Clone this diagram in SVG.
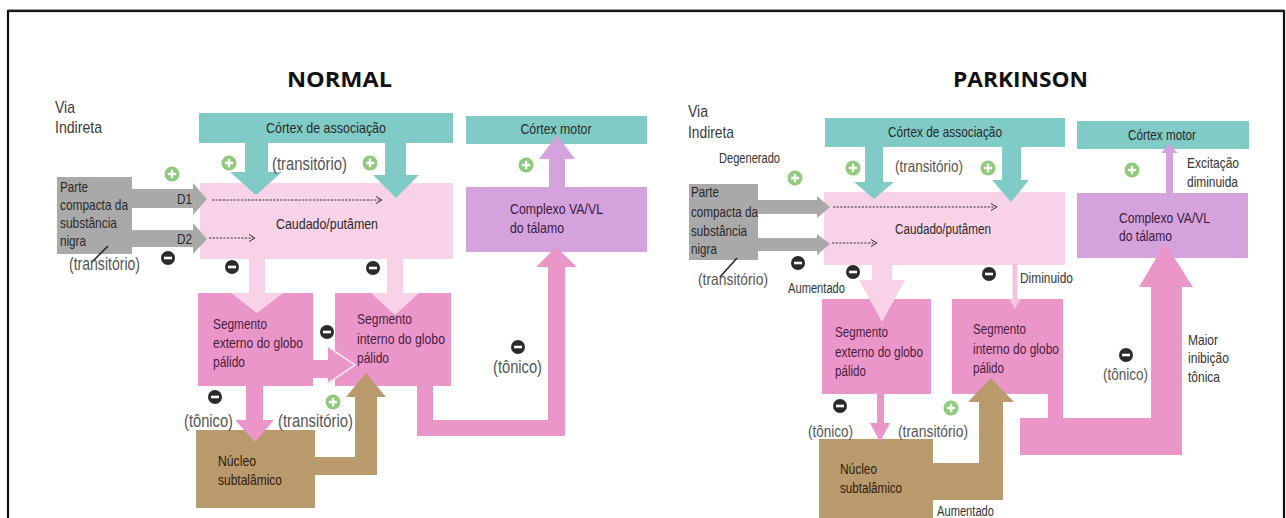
<svg xmlns="http://www.w3.org/2000/svg" width="1286" height="518" viewBox="0 0 1286 518">
<defs>
<style>
text{font-family:"Liberation Sans",Arial,sans-serif;}
.title{font-family:"Open Sans","Liberation Sans",sans-serif;font-weight:bold;font-size:21px;fill:#111;}
.via{font-size:17px;fill:#3a3a3a;}
.lbl{font-size:14.5px;fill:#2a2a2a;}
.box{font-size:14.5px;fill:#4a1d3e;}
.teal{fill:#80cbc5;}
.lpink{fill:#f8d3e8;}
.pink{fill:#ea96c9;}
.purple{fill:#d4a2dc;}
.tan{fill:#b99a6c;}
.gray{fill:#a9a9a9;}
.note{font-size:17.5px;fill:#555;}
.small{font-size:14px;fill:#333;}
.dash{stroke:#333;stroke-width:1;stroke-dasharray:2.2 1.4;fill:none;}
.chev{stroke:#333;stroke-width:1;fill:none;}
</style>
<g id="plus"><circle r="7.5" fill="#8dca7c"/><path d="M-4.2 0H4.2M0 -4.2V4.2" stroke="#fff" stroke-width="2.4"/></g>
<g id="minus"><circle r="7" fill="#2b2b2b"/><rect x="-4" y="-1.3" width="8" height="2.6" fill="#fff"/></g>
</defs>
<rect width="1286" height="518" fill="#fff"/>
<rect x="8" y="11" width="1276" height="520" fill="none" stroke="#111" stroke-width="2.2"/>
<line x1="8" y1="9.6" x2="1284" y2="9.6" stroke="#999" stroke-width="1"/>

<!-- ===================== NORMAL ===================== -->
<text class="title" x="287" y="87" textLength="105" lengthAdjust="spacingAndGlyphs">NORMAL</text>
<text class="via" x="55" y="113" textLength="20" lengthAdjust="spacingAndGlyphs">Via</text>
<text class="via" x="55" y="133" textLength="47" lengthAdjust="spacingAndGlyphs">Indireta</text>

<g id="n_cortex_assoc"><rect class="teal" x="199" y="113" width="254" height="30"/><text class="lbl" x="326" y="133" text-anchor="middle" textLength="120" lengthAdjust="spacingAndGlyphs">Córtex de associação</text></g>
<g id="n_caudado"><rect class="lpink" x="200" y="183" width="253" height="76"/><text class="lbl" x="327" y="229" text-anchor="middle" textLength="102" lengthAdjust="spacingAndGlyphs">Caudado/putâmen</text></g>
<g id="n_sn"><rect class="gray" x="57" y="177" width="75" height="77"/>
<text class="lbl" x="60" y="192" textLength="28" lengthAdjust="spacingAndGlyphs">Parte</text><text class="lbl" x="60" y="210" textLength="68" lengthAdjust="spacingAndGlyphs">compacta da</text><text class="lbl" x="60" y="228" textLength="57" lengthAdjust="spacingAndGlyphs">substância</text><text class="lbl" x="60" y="246" textLength="26" lengthAdjust="spacingAndGlyphs">nigra</text></g>
<g id="n_gpe"><rect class="pink" x="198" y="293" width="115" height="93"/><text class="box" x="213" y="329" textLength="54" lengthAdjust="spacingAndGlyphs">Segmento</text><text class="box" x="213" y="348" textLength="90" lengthAdjust="spacingAndGlyphs">externo do globo</text><text class="box" x="213" y="367" textLength="32" lengthAdjust="spacingAndGlyphs">pálido</text></g>
<g id="n_gpi"><rect class="pink" x="335" y="293" width="116" height="93"/><text class="box" x="357" y="324" textLength="55" lengthAdjust="spacingAndGlyphs">Segmento</text><text class="box" x="357" y="344" textLength="88" lengthAdjust="spacingAndGlyphs">interno do globo</text><text class="box" x="357" y="363" textLength="32" lengthAdjust="spacingAndGlyphs">pálido</text></g>
<g id="n_stn"><rect class="tan" x="196" y="430" width="119" height="78"/><text class="box" x="218" y="466" style="fill:#2e2010" textLength="38" lengthAdjust="spacingAndGlyphs">Núcleo</text><text class="box" x="218" y="485" style="fill:#2e2010" textLength="64" lengthAdjust="spacingAndGlyphs">subtalâmico</text></g>
<g id="n_valvl"><rect class="purple" x="466" y="187" width="181" height="65"/><text class="box" x="510" y="214" style="fill:#3b1a40" textLength="93" lengthAdjust="spacingAndGlyphs">Complexo VA/VL</text><text class="box" x="510" y="233" style="fill:#3b1a40" textLength="54" lengthAdjust="spacingAndGlyphs">do tálamo</text></g>
<g id="n_motor"><rect class="teal" x="466" y="116" width="181" height="28"/><text class="lbl" x="556" y="134" text-anchor="middle" textLength="71" lengthAdjust="spacingAndGlyphs">Córtex motor</text></g>

<g id="n_connectors">
<polygon class="teal" points="245,142 268,142 268,172 282,172 256,195 230,172 245,172"/>
<polygon class="teal" points="385,142 406,142 406,175 419,175 396,198 373,175 385,175"/>
<polygon class="gray" points="132,189 193,189 193,183 207,199 193,215 193,208 132,208"/>
<polygon class="gray" points="132,230 193,230 193,223 207,239 193,254 193,247 132,247"/>
<line class="dash" x1="212" y1="200" x2="380" y2="200"/><polyline class="chev" points="376,196.5 382,200 376,203.5"/>
<line class="dash" x1="209" y1="238" x2="253" y2="238"/><polyline class="chev" points="249,234.5 255,238 249,241.5"/>
<polygon class="lpink" points="249,258 265,258 265,293 283,293 257,313 231,293 249,293"/>
<polygon class="lpink" points="387,258 403,258 403,293 419,293 395,315 371,293 387,293"/>
<polygon class="pink" points="312,360 328,360 328,347 355,365 328,383 328,378 312,378"/>
<polyline points="327,346 355,365 327,384" fill="none" stroke="#fbe3f0" stroke-width="1.6"/>
<polygon class="pink" points="246,385 263,385 263,420 274,420 255,442 235,420 246,420"/>
<polygon class="tan" points="314,457 355,457 355,397 346,397 366,373 386,397 377,397 377,475 314,475"/>
<polygon class="pink" points="417,385 433,385 433,420 548,420 548,267 536,267 556,247 577,267 565,267 565,436 417,436"/>
<polygon class="purple" points="549,188 565,188 565,159 575,159 557,135 539,159 549,159"/>
<line x1="108" y1="246" x2="92" y2="262" stroke="#222" stroke-width="1.5"/>
</g>

<text class="lbl" x="177" y="204" style="font-size:15px" textLength="15" lengthAdjust="spacingAndGlyphs">D1</text>
<text class="lbl" x="177" y="244" style="font-size:15px" textLength="15" lengthAdjust="spacingAndGlyphs">D2</text>
<text class="note" x="272" y="170" textLength="75" lengthAdjust="spacingAndGlyphs">(transitório)</text>
<text class="note" x="69" y="270" textLength="71" lengthAdjust="spacingAndGlyphs">(transitório)</text>
<text class="note" x="184" y="427" textLength="49" lengthAdjust="spacingAndGlyphs">(tônico)</text>
<text class="note" x="278" y="427" textLength="75" lengthAdjust="spacingAndGlyphs">(transitório)</text>
<text class="note" x="493" y="373" textLength="49" lengthAdjust="spacingAndGlyphs">(tônico)</text>
<use href="#plus" x="229" y="163"/><use href="#plus" x="370" y="163"/><use href="#plus" x="172" y="174"/><use href="#plus" x="526" y="165"/><use href="#plus" x="333" y="402"/>
<use href="#minus" x="168" y="258"/><use href="#minus" x="232" y="267"/><use href="#minus" x="373" y="268"/><use href="#minus" x="327" y="332"/><use href="#minus" x="215" y="397"/><use href="#minus" x="518" y="347"/>

<!-- ===================== PARKINSON ===================== -->
<text class="title" x="953" y="87" textLength="135" lengthAdjust="spacingAndGlyphs">PARKINSON</text>
<text class="via" x="688" y="117" textLength="20" lengthAdjust="spacingAndGlyphs">Via</text>
<text class="via" x="688" y="138" textLength="46" lengthAdjust="spacingAndGlyphs">Indireta</text>

<g id="p_cortex_assoc"><rect class="teal" x="825" y="118" width="240" height="29"/><text class="lbl" x="945" y="137" text-anchor="middle" textLength="114" lengthAdjust="spacingAndGlyphs">Córtex de associação</text></g>
<g id="p_caudado"><rect class="lpink" x="824" y="192" width="241" height="73"/><text class="lbl" x="943" y="234" text-anchor="middle" style="font-size:14px" textLength="96" lengthAdjust="spacingAndGlyphs">Caudado/putâmen</text></g>
<g id="p_sn"><rect class="gray" x="689" y="184" width="69" height="76"/>
<text class="lbl" x="691" y="197" style="font-size:14px" textLength="28" lengthAdjust="spacingAndGlyphs">Parte</text><text class="lbl" x="691" y="217" style="font-size:14px" textLength="67" lengthAdjust="spacingAndGlyphs">compacta da</text><text class="lbl" x="691" y="236" style="font-size:14px" textLength="56" lengthAdjust="spacingAndGlyphs">substância</text><text class="lbl" x="691" y="254" style="font-size:14px" textLength="26" lengthAdjust="spacingAndGlyphs">nigra</text></g>
<g id="p_gpe"><rect class="pink" x="822" y="299" width="109" height="95"/><text class="box" x="835" y="337" style="font-size:14px" textLength="53" lengthAdjust="spacingAndGlyphs">Segmento</text><text class="box" x="835" y="357" style="font-size:14px" textLength="88" lengthAdjust="spacingAndGlyphs">externo do globo</text><text class="box" x="835" y="376" style="font-size:14px" textLength="31" lengthAdjust="spacingAndGlyphs">pálido</text></g>
<g id="p_gpi"><rect class="pink" x="952" y="299" width="111" height="95"/><text class="box" x="973" y="334" style="font-size:14px" textLength="53" lengthAdjust="spacingAndGlyphs">Segmento</text><text class="box" x="973" y="354" style="font-size:14px" textLength="86" lengthAdjust="spacingAndGlyphs">interno do globo</text><text class="box" x="973" y="373" style="font-size:14px" textLength="31" lengthAdjust="spacingAndGlyphs">pálido</text></g>
<g id="p_stn"><rect class="tan" x="819" y="439" width="114" height="85"/><text class="box" x="840" y="474" style="fill:#2e2010;font-size:14px" textLength="37" lengthAdjust="spacingAndGlyphs">Núcleo</text><text class="box" x="840" y="493" style="fill:#2e2010;font-size:14px" textLength="62" lengthAdjust="spacingAndGlyphs">subtalâmico</text></g>
<g id="p_valvl"><rect class="purple" x="1077" y="193" width="171" height="65"/><text class="box" x="1119" y="223" style="fill:#3b1a40;font-size:14px" textLength="91" lengthAdjust="spacingAndGlyphs">Complexo VA/VL</text><text class="box" x="1119" y="241" style="fill:#3b1a40;font-size:14px" textLength="53" lengthAdjust="spacingAndGlyphs">do tálamo</text></g>
<g id="p_motor"><rect class="teal" x="1077" y="121" width="172" height="28"/><text class="lbl" x="1162" y="140" text-anchor="middle" style="font-size:14px" textLength="68" lengthAdjust="spacingAndGlyphs">Córtex motor</text></g>

<g id="p_connectors">
<polygon class="teal" points="865,146 883,146 883,182 894,182 874,199 854,182 865,182"/>
<polygon class="teal" points="1002,146 1021,146 1021,180 1029,180 1011,202 992,180 1002,180"/>
<polygon class="gray" points="758,200 817,200 817,196 830,207 817,218 817,214 758,214"/>
<polygon class="gray" points="758,238 817,238 817,234 830,244 817,255 817,251 758,251"/>
<line class="dash" x1="833" y1="207" x2="995" y2="207"/><polyline class="chev" points="991,203.5 997,207 991,210.5"/>
<line class="dash" x1="832" y1="243" x2="875" y2="243"/><polyline class="chev" points="871,239.5 877,243 871,246.5"/>
<polygon class="lpink" points="872,264 892,264 892,280 905,280 882,322 859,280 872,280"/>
<polygon points="1012.5,264 1017.5,264 1017.5,299 1021,299 1015,309 1009,299 1012.5,299" fill="#f3c3df"/>
<polygon class="pink" points="877,393 884,393 884,423 890,423 880,442 870,423 877,423"/>
<polygon class="tan" points="932,463 979,463 979,402 968,402 991,378 1014,402 1003,402 1003,500 932,500"/>
<polygon class="pink" points="1048,393 1063,393 1063,418 1151,418 1151,287 1139,287 1165,243 1193,287 1182,287 1182,455 1020,455 1020,418 1048,418"/>
<polygon class="purple" points="1166,194 1173,194 1173,153 1178,153 1169,144 1161,153 1166,153"/>
<line x1="737" y1="258" x2="720" y2="277" stroke="#222" stroke-width="1.5"/>
</g>

<text class="note" x="895" y="172" style="font-size:16.5px" textLength="68" lengthAdjust="spacingAndGlyphs">(transitório)</text>
<text class="note" x="698" y="285" style="font-size:16.5px" textLength="70" lengthAdjust="spacingAndGlyphs">(transitório)</text>
<text class="note" x="808" y="437" style="font-size:16.5px" textLength="45" lengthAdjust="spacingAndGlyphs">(tônico)</text>
<text class="note" x="898" y="437" style="font-size:16.5px" textLength="70" lengthAdjust="spacingAndGlyphs">(transitório)</text>
<text class="note" x="1103" y="380" style="font-size:16.5px" textLength="45" lengthAdjust="spacingAndGlyphs">(tônico)</text>
<text class="small" x="719" y="163" textLength="61" lengthAdjust="spacingAndGlyphs">Degenerado</text>
<text class="small" x="788" y="293" textLength="57" lengthAdjust="spacingAndGlyphs">Aumentado</text>
<text class="small" x="1020" y="283" style="font-size:14.5px" textLength="53" lengthAdjust="spacingAndGlyphs">Diminuido</text>
<text class="small" x="937" y="516" style="font-size:14px" textLength="57" lengthAdjust="spacingAndGlyphs">Aumentado</text>
<text class="small" x="1187" y="168" style="font-size:14.5px" textLength="52" lengthAdjust="spacingAndGlyphs">Excitação</text>
<text class="small" x="1187" y="187" style="font-size:14.5px" textLength="51" lengthAdjust="spacingAndGlyphs">diminuida</text>
<text class="small" x="1188" y="345" style="font-size:14.5px" textLength="30" lengthAdjust="spacingAndGlyphs">Maior</text>
<text class="small" x="1188" y="363" style="font-size:14.5px" textLength="41" lengthAdjust="spacingAndGlyphs">inibição</text>
<text class="small" x="1188" y="382" style="font-size:14.5px" textLength="32" lengthAdjust="spacingAndGlyphs">tônica</text>
<use href="#plus" x="795" y="178"/><use href="#plus" x="853" y="168"/><use href="#plus" x="988" y="168"/><use href="#plus" x="1132" y="170"/><use href="#plus" x="951" y="408"/>
<use href="#minus" x="798" y="263"/><use href="#minus" x="853" y="272"/><use href="#minus" x="989" y="274"/><use href="#minus" x="840" y="406"/><use href="#minus" x="1126" y="355"/>
</svg>
